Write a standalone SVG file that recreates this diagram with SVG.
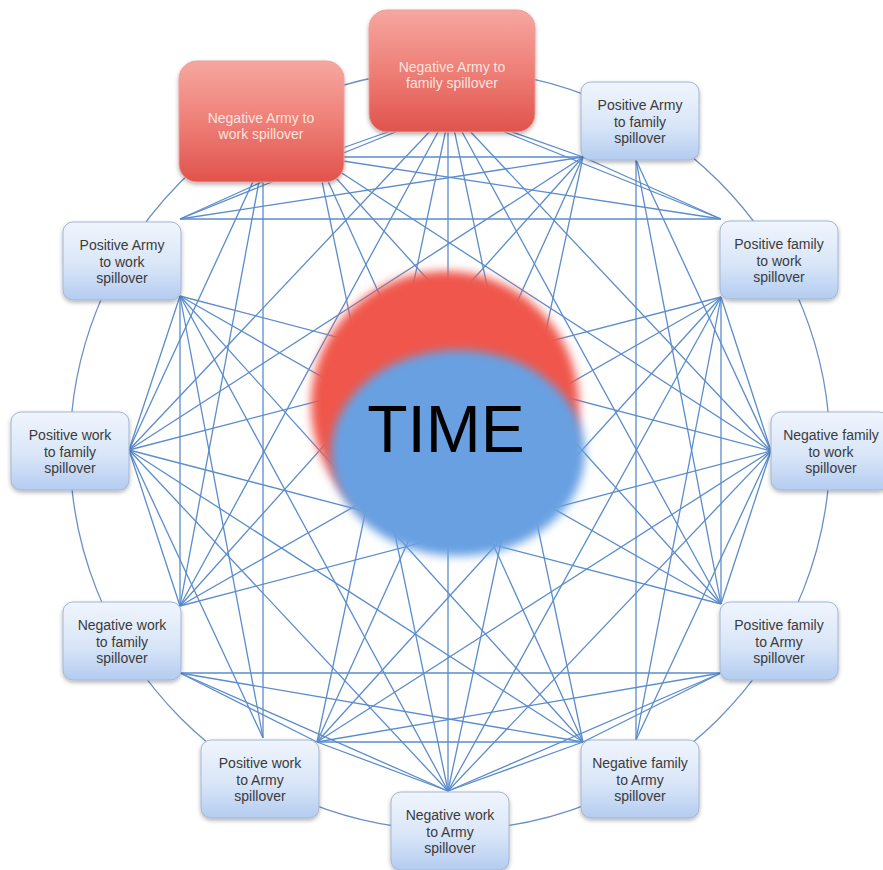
<svg xmlns="http://www.w3.org/2000/svg" width="883" height="870" viewBox="0 0 883 870">
  <style>
    .ring { fill: none; stroke: #6a90c4; stroke-width: 1.3; }
    .edge { stroke: #5b8ccb; stroke-width: 1.3; fill: none; }
    .box { fill: url(#blueFill); stroke: #a3b6d4; stroke-width: 1; filter: url(#shadow); }
    .hot { fill: url(#redFill); stroke: #e8a09a; stroke-width: 1; filter: url(#shadow); }
    .label { font-family: "Liberation Sans", Arial, sans-serif; font-size: 14px; fill: #3b3b3b; text-anchor: middle; }
    .hotlabel { font-family: "Liberation Sans", Arial, sans-serif; font-size: 14px; fill: #fde3df; text-anchor: middle; }
    .time { font-family: "Liberation Sans", Arial, sans-serif; font-size: 66px; fill: #000; text-anchor: middle; }
  </style>
  <defs>
    <linearGradient id="blueFill" x1="0" y1="0" x2="0" y2="1">
      <stop offset="0" stop-color="#f0f5fd"/>
      <stop offset="0.55" stop-color="#d9e6f8"/>
      <stop offset="1" stop-color="#b4ccf0"/>
    </linearGradient>
    <linearGradient id="redFill" x1="0" y1="0" x2="0" y2="1">
      <stop offset="0" stop-color="#f6a7a0"/>
      <stop offset="0.5" stop-color="#ee7f77"/>
      <stop offset="1" stop-color="#e0534c"/>
    </linearGradient>
    <filter id="shadow" x="-20%" y="-20%" width="140%" height="150%">
      <feDropShadow dx="0" dy="2" stdDeviation="2" flood-color="#000" flood-opacity="0.3"/>
    </filter>
    <filter id="soft" x="-20%" y="-20%" width="140%" height="140%">
      <feGaussianBlur stdDeviation="5"/>
    </filter>
  </defs>

  <rect width="883" height="870" fill="#ffffff"/>

  <!-- outer ring through all nodes -->
  <g id="ring">
    <circle class="ring" cx="450" cy="450" r="380"/>
  </g>

  <!-- links between every pair of spillover nodes -->
  <g id="connectors">
    <line class="edge" x1="450" y1="110" x2="583" y2="157"/>
    <line class="edge" x1="450" y1="110" x2="721" y2="219"/>
    <line class="edge" x1="450" y1="110" x2="771" y2="451"/>
    <line class="edge" x1="450" y1="110" x2="721" y2="604"/>
    <line class="edge" x1="450" y1="110" x2="583" y2="742"/>
    <line class="edge" x1="448" y1="110" x2="448" y2="791"/>
    <line class="edge" x1="450" y1="110" x2="317" y2="742"/>
    <line class="edge" x1="450" y1="110" x2="180" y2="606"/>
    <line class="edge" x1="450" y1="110" x2="129" y2="450"/>
    <line class="edge" x1="450" y1="110" x2="180" y2="219"/>
    <line class="edge" x1="450" y1="110" x2="317" y2="157"/>

    <line class="edge" x1="583" y1="157" x2="721" y2="219"/>
    <line class="edge" x1="636" y1="160" x2="771" y2="451"/>
    <line class="edge" x1="636" y1="160" x2="721" y2="604"/>
    <line class="edge" x1="636" y1="160" x2="636" y2="740"/>
    <line class="edge" x1="583" y1="157" x2="448" y2="791"/>
    <line class="edge" x1="583" y1="157" x2="317" y2="742"/>
    <line class="edge" x1="583" y1="157" x2="180" y2="606"/>
    <line class="edge" x1="583" y1="157" x2="129" y2="450"/>
    <line class="edge" x1="583" y1="157" x2="180" y2="219"/>
    <line class="edge" x1="583" y1="157" x2="317" y2="157"/>

    <line class="edge" x1="721" y1="297" x2="771" y2="451"/>
    <line class="edge" x1="721" y1="297" x2="721" y2="604"/>
    <line class="edge" x1="721" y1="297" x2="636" y2="740"/>
    <line class="edge" x1="721" y1="297" x2="448" y2="791"/>
    <line class="edge" x1="721" y1="297" x2="317" y2="742"/>
    <line class="edge" x1="721" y1="297" x2="180" y2="606"/>
    <line class="edge" x1="721" y1="297" x2="129" y2="450"/>
    <line class="edge" x1="721" y1="219" x2="180" y2="219"/>
    <line class="edge" x1="721" y1="219" x2="317" y2="157"/>

    <line class="edge" x1="771" y1="451" x2="721" y2="604"/>
    <line class="edge" x1="771" y1="451" x2="636" y2="740"/>
    <line class="edge" x1="771" y1="451" x2="448" y2="791"/>
    <line class="edge" x1="771" y1="451" x2="317" y2="742"/>
    <line class="edge" x1="771" y1="451" x2="180" y2="606"/>
    <line class="edge" x1="771" y1="451" x2="180" y2="296"/>
    <line class="edge" x1="771" y1="451" x2="317" y2="157"/>

    <line class="edge" x1="721" y1="673" x2="583" y2="742"/>
    <line class="edge" x1="721" y1="673" x2="448" y2="791"/>
    <line class="edge" x1="721" y1="673" x2="317" y2="742"/>
    <line class="edge" x1="721" y1="673" x2="180" y2="673"/>
    <line class="edge" x1="721" y1="604" x2="129" y2="450"/>
    <line class="edge" x1="721" y1="604" x2="180" y2="296"/>
    <line class="edge" x1="721" y1="604" x2="317" y2="157"/>

    <line class="edge" x1="583" y1="742" x2="448" y2="791"/>
    <line class="edge" x1="583" y1="742" x2="317" y2="742"/>
    <line class="edge" x1="583" y1="742" x2="180" y2="673"/>
    <line class="edge" x1="583" y1="742" x2="129" y2="450"/>
    <line class="edge" x1="583" y1="742" x2="180" y2="296"/>
    <line class="edge" x1="583" y1="742" x2="317" y2="157"/>

    <line class="edge" x1="448" y1="791" x2="317" y2="742"/>
    <line class="edge" x1="448" y1="791" x2="180" y2="673"/>
    <line class="edge" x1="448" y1="791" x2="129" y2="450"/>
    <line class="edge" x1="448" y1="791" x2="180" y2="296"/>
    <line class="edge" x1="448" y1="791" x2="317" y2="157"/>

    <line class="edge" x1="317" y1="742" x2="180" y2="673"/>
    <line class="edge" x1="263" y1="738" x2="129" y2="450"/>
    <line class="edge" x1="263" y1="738" x2="180" y2="296"/>
    <line class="edge" x1="263" y1="738" x2="263" y2="160"/>

    <line class="edge" x1="180" y1="606" x2="129" y2="450"/>
    <line class="edge" x1="180" y1="606" x2="180" y2="296"/>
    <line class="edge" x1="180" y1="606" x2="263" y2="160"/>

    <line class="edge" x1="129" y1="450" x2="180" y2="296"/>
    <line class="edge" x1="129" y1="450" x2="263" y2="160"/>

    <line class="edge" x1="180" y1="219" x2="317" y2="157"/>
  </g>

  <!-- central TIME disc: red upper crescent under a blue disc -->
  <g id="time">
    <circle cx="445" cy="405" r="134" fill="#f0564c" filter="url(#soft)"/>
    <ellipse cx="458" cy="453" rx="127" ry="103" fill="#67a0e2" filter="url(#soft)"/>
    <text class="time" x="446" y="452">TIME</text>
  </g>

  <g id="neg-army-work">
    <rect class="hot" x="179" y="61" width="165" height="121" rx="18"/>
    <text class="hotlabel" x="261" y="123"><tspan x="261">Negative Army to</tspan><tspan x="261" dy="16">work spillover</tspan></text>
  </g>

  <g id="neg-army-family">
    <rect class="hot" x="369" y="10" width="166" height="122" rx="18"/>
    <text class="hotlabel" x="452" y="72"><tspan x="452">Negative Army to</tspan><tspan x="452" dy="16">family spillover</tspan></text>
  </g>

  <g id="pos-army-family">
    <rect class="box" x="581" y="82" width="118" height="78" rx="10"/>
    <text class="label" x="640" y="110"><tspan x="640">Positive Army</tspan><tspan x="640" dy="16.5">to family</tspan><tspan x="640" dy="16.5">spillover</tspan></text>
  </g>

  <g id="pos-family-work">
    <rect class="box" x="720" y="221" width="118" height="78" rx="10"/>
    <text class="label" x="779" y="249"><tspan x="779">Positive family</tspan><tspan x="779" dy="16.5">to work</tspan><tspan x="779" dy="16.5">spillover</tspan></text>
  </g>

  <g id="neg-family-work">
    <rect class="box" x="771" y="412" width="118" height="78" rx="10"/>
    <text class="label" x="831" y="440"><tspan x="831">Negative family</tspan><tspan x="831" dy="16.5">to work</tspan><tspan x="831" dy="16.5">spillover</tspan></text>
  </g>

  <g id="pos-family-army">
    <rect class="box" x="720" y="602" width="118" height="78" rx="10"/>
    <text class="label" x="779" y="630"><tspan x="779">Positive family</tspan><tspan x="779" dy="16.5">to Army</tspan><tspan x="779" dy="16.5">spillover</tspan></text>
  </g>

  <g id="neg-family-army">
    <rect class="box" x="581" y="740" width="118" height="78" rx="10"/>
    <text class="label" x="640" y="768"><tspan x="640">Negative family</tspan><tspan x="640" dy="16.5">to Army</tspan><tspan x="640" dy="16.5">spillover</tspan></text>
  </g>

  <g id="neg-work-army">
    <rect class="box" x="391" y="792" width="118" height="78" rx="10"/>
    <text class="label" x="450" y="820"><tspan x="450">Negative work</tspan><tspan x="450" dy="16.5">to Army</tspan><tspan x="450" dy="16.5">spillover</tspan></text>
  </g>

  <g id="pos-work-army">
    <rect class="box" x="201" y="740" width="118" height="78" rx="10"/>
    <text class="label" x="260" y="768"><tspan x="260">Positive work</tspan><tspan x="260" dy="16.5">to Army</tspan><tspan x="260" dy="16.5">spillover</tspan></text>
  </g>

  <g id="neg-work-family">
    <rect class="box" x="63" y="602" width="118" height="78" rx="10"/>
    <text class="label" x="122" y="630"><tspan x="122">Negative work</tspan><tspan x="122" dy="16.5">to family</tspan><tspan x="122" dy="16.5">spillover</tspan></text>
  </g>

  <g id="pos-work-family">
    <rect class="box" x="11" y="412" width="118" height="78" rx="10"/>
    <text class="label" x="70" y="440"><tspan x="70">Positive work</tspan><tspan x="70" dy="16.5">to family</tspan><tspan x="70" dy="16.5">spillover</tspan></text>
  </g>

  <g id="pos-army-work">
    <rect class="box" x="63" y="222" width="118" height="78" rx="10"/>
    <text class="label" x="122" y="250"><tspan x="122">Positive Army</tspan><tspan x="122" dy="16.5">to work</tspan><tspan x="122" dy="16.5">spillover</tspan></text>
  </g>
</svg>
